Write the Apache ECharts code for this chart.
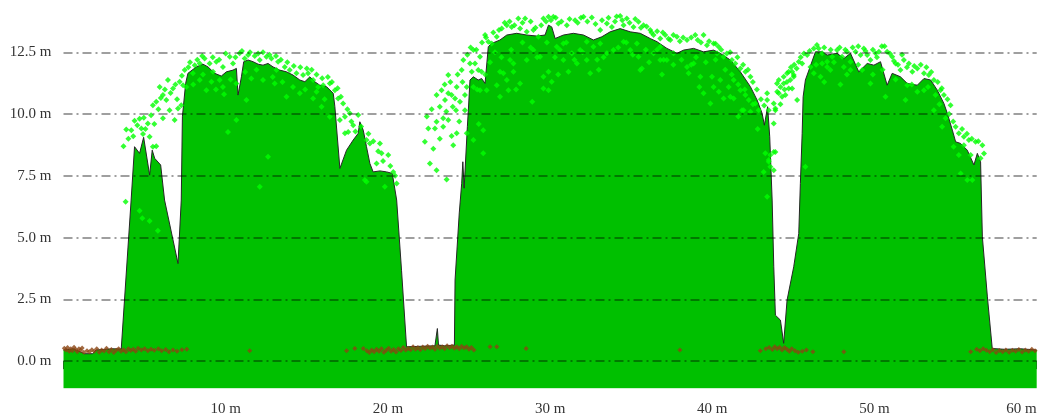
<!DOCTYPE html>
<html>
<head>
<meta charset="utf-8">
<script src="https://cdn.jsdelivr.net/npm/echarts@6/dist/echarts.min.js"></script>
<style>
  html, body { margin: 0; padding: 0; background: #fff; }
  #chart { width: 1041px; height: 417px; }
</style>
</head>
<body>
<div id="chart"></div>
<script>
// Terrain/canopy height profile along the transect (distance m, height m)
const profileX = [0, 0.6, 1.3, 1.8, 2.0, 3.0, 3.56, 4.17, 4.38, 4.69, 4.94, 5.31, 5.47, 5.62, 5.99, 6.23, 7.06, 7.26, 7.33, 7.53, 7.67, 8.19, 8.60, 8.91, 9.32, 9.73, 10.04, 10.45, 10.66, 10.76, 10.97, 11.11, 11.38, 11.69, 12.0, 12.30, 12.61, 12.92, 13.33, 13.75, 14.15, 14.57, 14.88, 15.19, 15.49, 15.80, 16.22, 16.63, 16.73, 17.04, 17.45, 17.86, 18.17, 18.27, 18.48, 18.68, 18.89, 19.09, 19.51, 19.92, 20.27, 20.54, 20.84, 21.15, 22.0, 22.9, 23.0, 23.05, 23.12, 23.5, 24.1, 24.14, 24.4, 24.55, 24.62, 24.7, 24.9, 24.96, 25.06, 25.27, 25.57, 25.78, 25.99, 26.19, 26.40, 26.91, 27.33, 27.94, 28.56, 29.18, 29.69, 29.90, 30.10, 30.31, 30.82, 31.44, 32.06, 32.67, 33.19, 33.70, 34.32, 34.94, 35.56, 36.17, 36.59, 37.20, 37.82, 38.23, 38.85, 39.46, 40.08, 40.49, 41.11, 41.73, 42.35, 42.76, 43.07, 43.21, 43.41, 43.54, 43.69, 43.79, 43.89, 44.20, 44.40, 44.61, 45.02, 45.33, 45.43, 45.54, 45.60, 45.74, 46.36, 46.77, 47.08, 47.69, 48.11, 48.52, 49.03, 49.55, 49.96, 50.37, 50.78, 51.09, 51.60, 52.02, 52.64, 53.05, 53.46, 53.87, 54.28, 54.49, 54.80, 55.0, 55.31, 55.72, 56.13, 56.34, 56.54, 56.65, 56.96, 57.26, 58.0, 59.0, 60.0];
const profileY = [0.45, 0.5, 0.3, 0.3, 0.45, 0.5, 0.49, 6.52, 8.68, 8.41, 9.06, 7.53, 8.54, 8.21, 7.94, 6.52, 3.95, 6.52, 9.89, 11.24, 11.65, 11.91, 12.02, 11.91, 11.65, 11.54, 11.71, 11.78, 11.85, 10.77, 11.51, 12.12, 12.19, 12.12, 12.02, 11.98, 12.05, 11.91, 11.78, 11.71, 11.58, 11.38, 11.31, 11.51, 11.31, 11.17, 11.11, 10.84, 10.30, 7.80, 8.54, 8.95, 9.22, 9.69, 9.35, 8.68, 8.00, 7.66, 7.70, 7.66, 7.60, 6.52, 3.68, 0.58, 0.6, 0.62, 0.7, 1.32, 0.65, 0.62, 0.65, 3.28, 6.0, 7.2, 8.07, 7.0, 9.5, 10.16, 11.38, 11.51, 11.38, 11.44, 11.24, 12.73, 12.86, 13.0, 13.20, 13.27, 13.20, 13.16, 13.20, 13.60, 13.53, 13.06, 13.20, 13.27, 13.20, 13.0, 13.13, 13.33, 13.46, 13.33, 13.27, 13.06, 12.93, 12.66, 12.46, 12.59, 12.66, 12.52, 12.59, 12.46, 12.19, 11.71, 11.11, 10.57, 10.03, 9.55, 10.30, 9.08, 6.52, 3.82, 1.86, 1.66, 0.72, 2.47, 3.82, 5.17, 7.19, 9.22, 10.7, 11.38, 12.52, 12.52, 12.39, 12.46, 12.25, 12.46, 11.71, 12.05, 11.98, 12.12, 11.17, 11.65, 11.51, 11.24, 11.17, 11.44, 11.38, 10.97, 10.43, 10.03, 9.35, 8.88, 8.81, 8.54, 7.94, 8.41, 8.07, 5.03, 2.60, 0.51, 0.48, 0.5, 0.45];

// Vegetation returns, first tree group
const vegPoints1 = [[3.70,8.70],[3.83,6.45],[3.87,9.38],[4.18,9.35],[4.38,9.73],[4.69,9.81],[4.80,9.42],[4.90,9.19],[5.20,9.62],[5.31,9.08],[5.51,8.68],[5.72,8.70],[5.51,10.36],[5.72,10.50],[5.93,11.10],[6.13,10.77],[6.34,10.57],[6.44,11.38],[6.54,10.16],[6.13,9.83],[6.85,9.76],[6.75,11.04],[7.06,10.23],[7.16,11.31],[7.26,10.36],[7.47,11.78],[7.57,11.10],[4.69,6.09],[4.86,5.78],[5.31,5.67],[5.82,5.28],[8.09,11.98],[8.40,12.05],[8.70,12.25],[9.01,12.05],[9.42,12.12],[9.22,11.71],[9.83,11.91],[10.25,12.32],[10.45,12.05],[10.86,12.46],[11.17,12.25],[11.38,12.39],[11.79,12.35],[12.10,12.19],[12.51,12.32],[12.82,12.25],[13.23,12.12],[13.64,11.91],[13.95,11.78],[14.36,11.65],[14.77,11.58],[15.08,11.65],[15.39,11.38],[15.70,11.10],[16.01,11.17],[16.42,11.24],[16.73,10.97],[16.93,10.63],[17.24,10.43],[17.04,9.76],[17.35,9.89],[17.65,10.03],[17.35,9.22],[17.55,9.28],[17.86,9.55],[18.17,9.96],[18.68,8.95],[18.89,8.81],[19.51,8.81],[19.61,8.41],[19.30,8.00],[20.02,8.34],[20.33,7.66],[20.54,7.19],[19.81,7.06],[18.58,7.33],[18.68,7.26],[7.37,11.17],[7.98,11.65],[8.40,11.38],[8.81,10.97],[9.63,11.38],[10.14,9.28],[10.66,9.76],[11.28,10.57],[11.58,11.44],[12.30,11.38],[12.61,8.27],[12.10,7.06],[13.02,11.24],[13.75,10.70],[14.57,10.84],[15.39,10.63],[15.91,10.30],[16.42,9.89],[9.83,11.10],[9.12,11.31],[10.66,11.24],[13.13,11.78],[14.15,11.10],
  [4.0,9.0],[4.3,9.1],[4.55,9.55],[4.95,9.85],[5.05,9.4],[5.4,9.95],[5.6,9.6],[5.85,10.2],[6.0,10.65],[6.25,11.0],[6.6,10.85],[6.9,11.2],[7.0,10.6],[7.3,11.55],[7.7,11.9],[7.8,12.1],[8.25,12.2],[8.55,12.35],[9.2,12.3],[9.6,12.2],[10.0,12.45],[10.6,12.3],[11.0,12.55],[11.5,12.5],[12.0,12.45],[12.3,12.5],[12.7,12.4],[13.1,12.35],[13.4,12.2],[13.8,12.1],[14.2,11.95],[14.6,11.9],[15.0,11.85],[15.3,11.8],[15.6,11.6],[15.95,11.45],[16.3,11.5],[16.55,11.3],[16.9,11.05],[17.1,10.7],[17.5,10.2],[17.75,9.7],[18.0,9.3],[18.35,9.5],[18.8,9.2],[19.1,8.9],[19.4,8.5],[19.7,8.1],[20.15,7.9],[20.45,7.5],
  [8.0,11.2],[8.6,11.6],[9.4,11.0],[10.3,11.4],[11.9,11.8],[12.9,11.5],[13.5,11.3],[14.9,11.0],[15.6,10.9],[16.1,10.6],[11.2,11.7],[9.9,10.8]];

// Vegetation returns, second tree group
const vegPoints2 = [[22.28,8.88],[22.59,8.00],[23.0,7.73],[23.62,7.35],[22.49,9.42],[22.90,9.42],[23.0,9.69],[23.41,9.49],[23.41,9.83],[23.72,9.76],[23.93,9.11],[24.03,8.74],[24.24,9.22],[23.0,10.77],[23.31,10.97],[23.52,10.57],[23.72,10.84],[23.72,11.58],[23.93,10.77],[24.14,10.63],[24.24,11.10],[24.20,10.16],[24.44,10.50],[24.55,11.78],[24.65,12.19],[24.75,10.77],[24.86,11.10],[24.75,10.16],[24.86,9.22],[25.06,12.05],[25.27,12.59],[25.17,11.71],[25.37,12.05],[25.68,12.32],[25.57,11.78],[25.78,11.71],[25.99,13.20],[26.19,12.93],[26.40,12.86],[26.71,13.13],[27.02,13.46],[27.33,13.60],[27.63,13.53],[28.04,13.87],[28.15,13.46],[28.46,13.87],[28.56,13.33],[28.97,13.40],[29.28,13.13],[29.59,13.87],[29.90,13.94],[30.20,13.94],[30.51,13.67],[31.03,13.60],[31.54,13.80],[32.06,13.94],[32.57,13.91],[33.09,13.40],[33.50,13.67],[33.81,13.53],[34.32,13.97],[34.73,13.87],[34.53,13.60],[35.14,13.53],[35.45,13.74],[35.76,13.60],[36.17,13.40],[36.38,13.20],[36.79,13.06],[37.10,13.20],[37.41,13.00],[37.82,13.13],[38.44,13.00],[38.95,13.20],[39.46,13.20],[39.67,12.79],[40.08,12.86],[40.39,12.73],[40.29,12.46],[40.70,12.32],[41.21,12.19],[41.42,12.05],[41.73,11.85],[42.04,11.71],[42.35,11.51],[41.32,11.38],[41.73,10.97],[42.04,10.77],[42.25,10.57],[42.65,10.43],[42.86,10.16],[41.83,10.16],[43.27,8.41],[43.48,8.07],[43.79,8.47],[43.17,7.66],[43.58,7.87],[25.27,11.10],[25.68,10.97],[26.09,10.97],[26.71,11.17],[27.12,11.65],[27.53,12.19],[27.74,11.71],[28.15,11.24],[27.43,10.97],[26.91,10.70],[25.88,8.41],[25.27,8.95],[28.56,12.19],[28.97,12.59],[29.38,12.32],[29.90,11.71],[30.10,11.31],[29.59,11.04],[30.41,12.73],[30.82,12.19],[31.34,12.46],[31.85,12.59],[32.26,12.19],[32.67,12.73],[33.09,12.86],[33.50,12.46],[33.91,12.59],[34.53,12.93],[34.94,12.59],[35.45,12.32],[35.66,11.85],[36.38,12.46],[36.79,12.19],[37.20,12.19],[37.61,12.46],[38.44,11.91],[38.85,12.05],[39.26,11.51],[39.98,11.51],[40.08,11.10],[40.49,11.38],[38.54,11.65],[39.46,10.84],[39.88,10.43],[40.70,10.63],[41.01,11.10],[41.11,10.70],[41.32,10.63],[41.93,10.16],[42.35,10.09],[25.88,9.35],[26.91,11.71],[27.33,11.38],[27.74,12.05],[29.90,10.97],[29.59,11.51],[30.82,12.86],[31.13,11.71],[31.65,12.05],[32.26,12.93],[32.47,11.65],[35.35,12.86],[35.56,11.78],[36.79,12.73],
  [22.4,9.9],[22.7,10.2],[22.8,8.6],[23.2,10.3],[23.2,9.0],[23.5,11.2],[23.6,10.1],[23.85,11.3],[24.0,10.3],[24.3,11.6],[24.4,9.7],[24.6,11.3],[24.9,12.4],[25.1,12.7],[25.45,12.6],[25.8,12.9],[26.05,13.1],[26.5,13.3],[26.85,13.4],[27.2,13.7],[27.5,13.75],[27.8,13.6],[28.3,13.7],[28.8,13.75],[29.1,13.5],[29.45,13.6],[29.75,13.75],[30.05,13.8],[30.35,13.9],[30.7,13.75],[31.2,13.85],[31.7,13.7],[31.9,13.9],[32.3,13.75],[32.8,13.65],[33.2,13.8],[33.6,13.9],[34.0,13.75],[34.1,13.95],[34.45,13.8],[34.9,13.7],[35.25,13.85],[35.6,13.5],[35.95,13.55],[36.25,13.3],[36.6,13.35],[36.95,13.3],[37.3,13.05],[37.6,13.2],[38.0,12.95],[38.2,13.1],[38.7,13.1],[39.1,13.0],[39.3,12.9],[39.8,12.95],[40.2,12.85],[40.55,12.6],[40.9,12.45],[41.1,12.5],[41.55,12.3],[41.9,12.0],[42.2,11.8],[42.5,11.3],[42.75,11.0],[43.0,10.6],[43.2,10.35],
  [26.3,12.1],[26.6,12.5],[27.0,12.3],[27.6,12.6],[28.3,12.9],[28.8,12.7],[29.2,12.3],[29.8,12.9],[30.3,12.3],[30.6,12.6],[31.0,12.9],[31.5,12.2],[32.0,12.5],[32.9,12.2],[33.3,12.3],[34.2,12.7],[34.7,12.9],[35.1,12.4],[35.9,12.6],[36.1,12.1],[36.6,12.6],[37.0,12.2],[37.6,12.0],[38.1,12.2],[38.7,12.0],[39.0,12.3],[39.6,12.1],[40.2,12.2],[40.8,11.8],[41.2,11.6],[41.6,11.2],[42.0,11.0],[42.5,10.4],[26.0,11.6],[25.5,11.0],[27.9,11.0],[30.5,11.6],[33.0,11.8],[36.9,11.6],[39.2,11.1],[40.4,10.9],[28.9,10.5],[25.6,9.6],[41.6,9.9],[42.8,9.4]];

// Vegetation returns, third tree group
const vegPoints3 = [[43.38,10.57],[43.48,10.16],[43.79,10.43],[43.89,10.16],[43.79,9.62],[44.10,10.84],[44.20,11.10],[44.40,11.24],[44.51,10.77],[44.71,11.71],[44.81,11.38],[44.92,11.04],[45.33,12.12],[45.02,11.58],[43.38,10.84],[43.89,10.23],[43.89,8.47],[43.58,8.34],[43.79,7.73],[43.38,6.65],[43.48,8.14],[43.99,11.24],[44.10,11.38],[44.40,11.51],[44.61,11.65],[44.92,11.71],[45.02,11.51],[45.54,12.05],[45.23,10.57],[44.30,10.70],[44.71,11.04],[45.74,7.87],[45.85,12.39],[46.05,11.91],[46.26,12.66],[46.56,12.66],[46.77,12.46],[46.77,12.05],[47.08,12.12],[47.39,12.32],[47.69,12.59],[48.0,12.32],[48.31,12.52],[48.52,12.12],[48.83,12.52],[49.14,12.39],[49.34,12.66],[49.55,12.39],[49.75,12.19],[50.06,12.46],[50.27,12.52],[50.62,12.75],[50.78,12.52],[51.09,12.32],[51.30,12.05],[51.60,11.78],[51.81,12.19],[52.12,12.05],[52.33,11.71],[52.64,11.85],[53.05,11.65],[53.35,11.58],[53.66,11.38],[54.07,10.97],[54.28,10.77],[54.69,10.36],[55.0,9.49],[55.20,9.22],[55.51,9.08],[55.82,8.95],[56.23,8.88],[56.65,8.74],[56.54,8.21],[55.93,8.34],[55.51,8.74],[54.88,8.68],[55.20,8.34],[55.72,7.33],[56.03,7.33],[55.31,7.60],[54.17,9.49],[54.38,9.83],[53.66,10.16],[53.76,10.77],[53.05,10.97],[52.64,10.90],[52.02,11.17],[51.91,10.57],[50.68,10.70],[49.75,11.24],[49.24,11.78],[48.52,11.78],[48.11,11.91],[47.28,11.78],[46.67,11.51],[47.08,11.91],[46.26,11.65],
  [44.0,10.9],[44.2,10.4],[44.45,11.0],[44.6,11.3],[44.85,11.9],[45.05,12.0],[45.2,11.85],[45.45,12.3],[45.65,12.45],[46.0,12.55],[46.45,12.8],[46.9,12.7],[47.3,12.6],[47.85,12.7],[48.2,12.6],[48.65,12.7],[49.0,12.75],[49.45,12.55],[49.9,12.6],[50.15,12.3],[50.45,12.75],[50.95,12.45],[51.2,12.15],[51.45,12.0],[51.7,12.4],[52.0,11.9],[52.45,11.95],[52.85,12.0],[53.2,11.9],[53.5,11.7],[53.9,11.3],[54.15,11.05],[54.5,10.6],[54.6,10.0],[54.85,9.7],[55.4,9.4],[55.7,9.2],[56.0,9.0],[56.4,8.9],[56.75,8.4],
  [46.4,12.0],[47.5,12.1],[48.3,11.6],[49.0,12.0],[49.9,11.6],[50.5,11.8],[51.3,11.4],[52.3,11.2],[53.3,11.1],[54.0,10.4],[47.9,11.2],[46.9,11.3]];

// Ground returns
const groundPoints = [[0.05,0.52],[0.15,0.45],[0.25,0.55],[0.35,0.4],[0.45,0.5],[0.55,0.42],[0.65,0.56],[0.75,0.47],[0.85,0.38],[0.95,0.5],[1.05,0.44],[1.15,0.53],[1.25,0.36],[1.45,0.42],[1.6,0.38],[1.75,0.46],[1.9,0.4],[2.05,0.5],[2.2,0.36],[2.35,0.45],[2.5,0.41],[2.65,0.52],[2.8,0.38],[2.95,0.47],[3.1,0.35],[3.25,0.44],[3.4,0.5],[3.55,0.4],[3.7,0.46],[3.85,0.38],[4.0,0.5],[4.15,0.43],[4.3,0.48],[4.45,0.4],[4.6,0.52],[4.8,0.45],[5.0,0.5],[5.2,0.42],[5.4,0.48],[5.6,0.44],[5.85,0.5],[6.05,0.42],[6.3,0.47],[6.5,0.38],[6.75,0.45],[7.0,0.4],[7.3,0.46],[7.6,0.48],[11.48,0.42],[17.45,0.42],[17.96,0.51],[18.48,0.51],[18.7,0.42],[18.85,0.35],[19.0,0.45],[19.15,0.38],[19.3,0.48],[19.45,0.4],[19.6,0.5],[19.75,0.36],[19.9,0.44],[20.05,0.52],[20.2,0.4],[20.35,0.47],[20.5,0.37],[20.65,0.5],[20.8,0.43],[20.95,0.55],[21.1,0.45],[21.25,0.52],[21.4,0.46],[21.55,0.58],[21.7,0.48],[21.85,0.55],[22.0,0.46],[22.15,0.57],[22.3,0.5],[22.45,0.6],[22.6,0.52],[22.75,0.57],[22.9,0.48],[23.05,0.6],[23.2,0.52],[23.35,0.58],[23.5,0.5],[23.65,0.62],[23.8,0.54],[23.95,0.6],[24.1,0.52],[24.25,0.58],[24.4,0.5],[24.55,0.6],[24.7,0.53],[24.85,0.58],[25.0,0.48],[25.15,0.55],[25.3,0.45],[26.3,0.58],[26.71,0.58],[28.52,0.51],[38.0,0.45],[42.96,0.42],[43.3,0.5],[43.5,0.55],[43.7,0.47],[43.85,0.58],[44.0,0.5],[44.15,0.56],[44.3,0.45],[44.45,0.55],[44.6,0.48],[44.75,0.4],[44.9,0.5],[45.1,0.42],[45.3,0.36],[45.55,0.4],[45.8,0.45],[46.2,0.38],[48.11,0.38],[55.93,0.38],[56.3,0.48],[56.5,0.42],[56.7,0.5],[56.9,0.44],[57.1,0.38],[57.3,0.46],[57.5,0.35],[57.7,0.43],[57.9,0.38],[58.1,0.45],[58.3,0.36],[58.5,0.44],[58.7,0.4],[58.9,0.47],[59.1,0.37],[59.3,0.45],[59.5,0.4],[59.7,0.48],[59.9,0.42]];

// Axis ticks
const xTicks = [0, 10, 20, 30, 40, 50, 60];
const yTicks = [0, 2.5, 5, 7.5, 10, 12.5];

const serif = '"Liberation Serif", "DejaVu Serif", serif';
const profile = profileX.map((x, i) => [x, profileY[i]]);

const chart = echarts.init(document.getElementById('chart'), null, { renderer: 'canvas' });
chart.setOption({
  animation: false,
  backgroundColor: '#ffffff',
  grid: { left: 63.5, right: 4.3, top: 5.4, bottom: 28.7, containLabel: false, outerBoundsMode: 'none' },
  xAxis: {
    type: 'value',
    min: xTicks[0],
    max: xTicks[xTicks.length - 1],
    interval: 10,
    axisLine: { show: false },
    axisTick: { show: true, length: 8, lineStyle: { color: '#333', width: 1 } },
    axisLabel: {
      color: '#333',
      fontFamily: serif,
      fontSize: 15,
      margin: 13,
      alignMaxLabel: 'right',
      formatter: v => (v === 0 ? '' : v + ' m')
    },
    splitLine: { show: false }
  },
  yAxis: {
    type: 'value',
    min: -1.1,
    max: 14.4,
    axisLine: { show: false },
    axisTick: { show: false },
    splitLine: { show: false },
    axisLabel: {
      customValues: yTicks,
      color: '#333',
      fontFamily: serif,
      fontSize: 15,
      margin: 12,
      formatter: v => v.toFixed(1) + ' m'
    }
  },
  series: [
    {
      type: 'line',
      name: 'profile',
      data: profile,
      symbol: 'none',
      silent: true,
      z: 2,
      lineStyle: { color: '#262626', width: 1 },
      areaStyle: { color: '#00c000', opacity: 1, origin: 'start' },
      markLine: {
        silent: true,
        symbol: ['none', 'none'],
        label: { show: false },
        lineStyle: { color: 'rgba(0,0,0,0.5)', width: 1.6, type: [9, 4, 2, 4] },
        data: yTicks.map(v => ({ yAxis: v }))
      }
    },
    {
      type: 'scatter',
      name: 'vegetation',
      data: vegPoints1.concat(vegPoints2, vegPoints3),
      symbol: 'diamond',
      symbolSize: 6,
      silent: true,
      z: 3,
      itemStyle: { color: '#00ff00' }
    },
    {
      type: 'scatter',
      name: 'ground',
      data: groundPoints,
      symbol: 'diamond',
      symbolSize: 5,
      silent: true,
      z: 4,
      itemStyle: { color: '#8b4513' }
    }
  ]
});
</script>
</body>
</html>
